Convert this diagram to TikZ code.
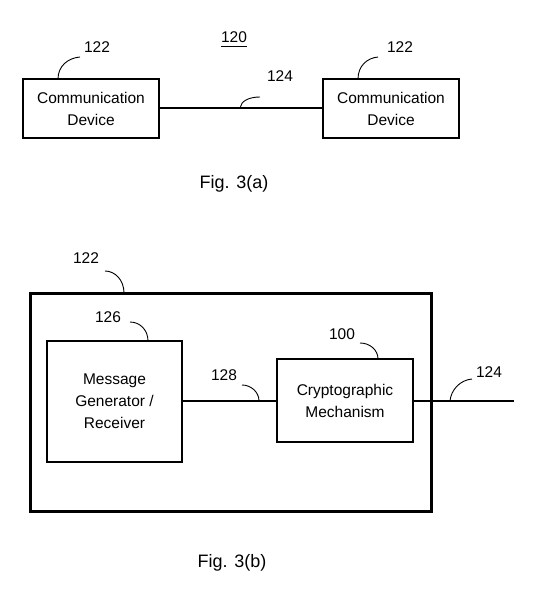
\documentclass[tikz,border=0pt]{standalone}
\usepackage{fontspec}
\setmainfont{Liberation Sans}
\begin{document}
\begin{tikzpicture}[x=1pt,y=-1pt,
  box/.style={draw,line width=2pt,inner sep=0pt,align=center,font=\fontsize{15.5}{22}\selectfont},
  outer/.style={draw,line width=3pt},
  wire/.style={line width=2pt},
  leader/.style={line width=0.9pt},
  num/.style={font=\fontsize{15.5}{18}\selectfont,inner sep=0pt},
  figcap/.style={font=\fontsize{18}{20}\selectfont,inner sep=0pt}]
\useasboundingbox[fill=white] (0,0) rectangle (537,607);
% Fig 3(a)
\node[box,minimum width=136pt,minimum height=59pt] (cd1) at (91,108.5) {Communication\\Device};
\node[box,minimum width=136pt,minimum height=59pt] (cd2) at (391,108.5) {Communication\\Device};
\draw[wire] (cd1.east) -- (cd2.west);
\node[num] (n120) at (234,37) {120};
\draw[line width=1pt] ([yshift=-4pt]n120.south west) -- ([yshift=-4pt]n120.south east);
\node[num] (n122a) at (97,47) {122};
\node[num] (n122b) at (400,47) {122};
\node[num] (n124a) at (280,76) {124};
\coordinate (l1a) at (58,79);
\coordinate (l1b) at (80,57);
\draw[leader] (l1a) .. controls (58,66) and (68,58) .. (l1b);
\coordinate (l2a) at (358,79);
\coordinate (l2b) at (378,57);
\draw[leader] (l2a) .. controls (358,66) and (367,58) .. (l2b);
\coordinate (l3a) at (240,108);
\coordinate (l3b) at (260,97);
\draw[leader] (l3a) .. controls (241,101) and (249,97) .. (l3b);
\node[figcap] (f3a) at (234,184) {Fig. 3(a)};
% Fig 3(b)
\node[outer,minimum width=401pt,minimum height=218pt,inner sep=0pt] (ob) at (230.5,402) {};
\node[box,minimum width=135pt,minimum height=121pt] (mg) at (114.5,401.5) {Message\\Generator /\\Receiver};
\node[box,minimum width=136pt,minimum height=83pt] (cm) at (345,400.5) {Cryptographic\\Mechanism};
\coordinate (outend) at (514,401);
\draw[wire] (mg.east |- 0,401) -- (cm.west |- 0,401);
\draw[wire] (cm.east |- 0,401) -- (outend);
\node[num] (n122c) at (86,258) {122};
\node[num] (n126) at (108,317) {126};
\node[num] (n128) at (224,375) {128};
\node[num] (n100) at (342,334) {100};
\node[num] (n124b) at (489,372) {124};
\coordinate (m1a) at (105,271);
\coordinate (m1b) at (124,293);
\draw[leader] (m1a) .. controls (115,271) and (124,280) .. (m1b);
\coordinate (m2a) at (130,322);
\coordinate (m2b) at (148,341);
\draw[leader] (m2a) .. controls (140,322) and (148,330) .. (m2b);
\coordinate (m3a) at (242,385);
\coordinate (m3b) at (259,401);
\draw[leader] (m3a) .. controls (251,385) and (259,392) .. (m3b);
\coordinate (m4a) at (360,343);
\coordinate (m4b) at (378,359);
\draw[leader] (m4a) .. controls (370,343) and (378,350) .. (m4b);
\coordinate (m5a) at (450,401);
\coordinate (m5b) at (472,379);
\draw[leader] (m5a) .. controls (451,390) and (460,380) .. (m5b);
\node[figcap] (f3b) at (232,563) {Fig. 3(b)};
\end{tikzpicture}
\end{document}
